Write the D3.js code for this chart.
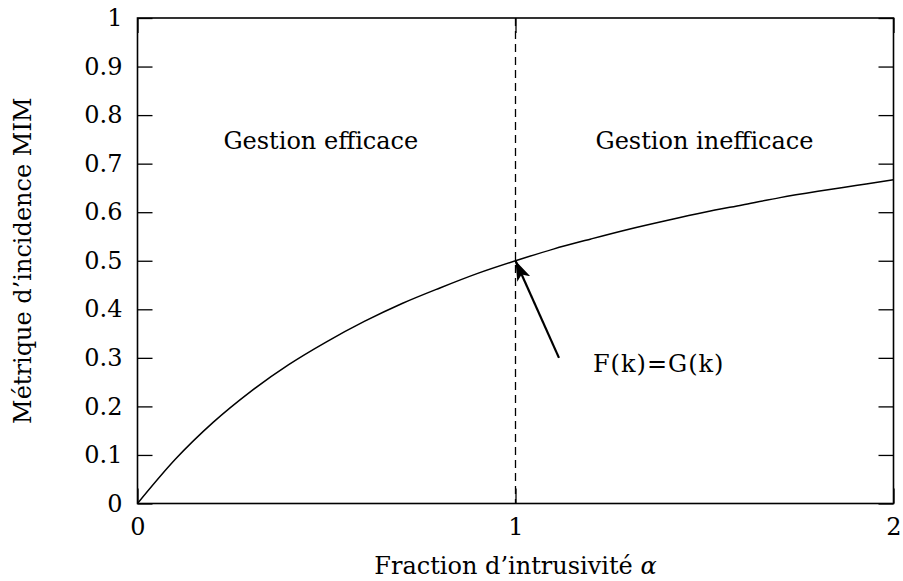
<!DOCTYPE html>
<html>
<head>
<meta charset="utf-8">
<script src="https://cdn.jsdelivr.net/npm/d3@7"></script>
<style>
  html, body { margin: 0; padding: 0; background: #fff; }
</style>
</head>
<body>
<svg id="chart" width="903" height="581"></svg>
<script>
// Fraction d'intrusivité (x) and MIM incidence metric (y) along the curve
const alphaValues = [0, 0.1, 0.2, 0.3, 0.4, 0.5, 0.6, 0.7, 0.8, 0.9, 1.0,
                     1.1, 1.2, 1.3, 1.4, 1.5, 1.6, 1.7, 1.8, 1.9, 2.0];
const mimValues   = [0, 0.091, 0.167, 0.231, 0.286, 0.333, 0.375, 0.412, 0.444, 0.474, 0.5,
                     0.524, 0.545, 0.565, 0.583, 0.6, 0.615, 0.630, 0.643, 0.655, 0.667];

const xTickValues = [0, 1, 2];
const yTickValues = [0, 0.1, 0.2, 0.3, 0.4, 0.5, 0.6, 0.7, 0.8, 0.9, 1];

// Threshold separating the two regimes, and the point where F(k)=G(k)
const thresholdAlpha = 1;
const crossing = { x: 1, y: 0.5 };
const arrowTail = { x: 1.115, y: 0.30 };

const regionLabels = [
  { text: "Gestion efficace", x: 0.485, y: 0.73 },
  { text: "Gestion inefficace", x: 1.5, y: 0.73 }
];

const svg = d3.select("#chart");
const margin = { left: 137.5, right: 9.5, top: 18, bottom: 77.5 };
const W = 903, H = 581;

const x = d3.scaleLinear().domain([0, 2]).range([margin.left, W - margin.right]);
const y = d3.scaleLinear().domain([0, 1]).range([H - margin.bottom, margin.top]);

const fontSize = 24;
const tickLen = 15;
const serif = '"DejaVu Serif", serif';

// arrowhead marker
svg.append("defs").append("marker")
  .attr("id", "arrowhead")
  .attr("viewBox", "0 0 20 14")
  .attr("refX", 20).attr("refY", 7)
  .attr("markerWidth", 20).attr("markerHeight", 14)
  .attr("markerUnits", "userSpaceOnUse")
  .attr("orient", "auto")
  .append("path")
  .attr("d", "M0,0 L20,7 L0,14 L5,7 Z")
  .attr("fill", "#000");

// axes with inward ticks on all four sides
const axisStyle = g => {
  g.attr("font-family", serif).attr("font-size", fontSize);
  g.select(".domain").remove();
  g.selectAll(".tick line").attr("stroke", "#000").attr("stroke-width", 1.3);
  g.selectAll(".tick text").attr("fill", "#000");
};

svg.append("g")
  .attr("transform", `translate(0,${y(0)})`)
  .call(d3.axisBottom(x).tickValues(xTickValues).tickFormat(d3.format("d"))
        .tickSizeInner(-tickLen).tickSizeOuter(0).tickPadding(14))
  .call(axisStyle);

svg.append("g")
  .attr("transform", `translate(0,${y(1)})`)
  .call(d3.axisTop(x).tickValues(xTickValues).tickFormat("")
        .tickSizeInner(-tickLen).tickSizeOuter(0))
  .call(axisStyle);

svg.append("g")
  .attr("transform", `translate(${x(0)},0)`)
  .call(d3.axisLeft(y).tickValues(yTickValues)
        .tickFormat(d => d === 0 || d === 1 ? d3.format("d")(d) : d3.format(".1f")(d))
        .tickSizeInner(-tickLen).tickSizeOuter(0).tickPadding(15))
  .call(axisStyle);

svg.append("g")
  .attr("transform", `translate(${x(2)},0)`)
  .call(d3.axisRight(y).tickValues(yTickValues).tickFormat("")
        .tickSizeInner(-tickLen).tickSizeOuter(0))
  .call(axisStyle);

// plot frame
svg.append("rect")
  .attr("x", x(0)).attr("y", y(1))
  .attr("width", x(2) - x(0)).attr("height", y(0) - y(1))
  .attr("fill", "none").attr("stroke", "#000").attr("stroke-width", 1.6);

// dashed threshold line
svg.append("line")
  .attr("x1", x(thresholdAlpha)).attr("x2", x(thresholdAlpha))
  .attr("y1", y(1)).attr("y2", y(0))
  .attr("stroke", "#000").attr("stroke-width", 1.3)
  .attr("stroke-dasharray", "8,5");

// MIM curve
const pts = alphaValues.map((a, i) => [a, mimValues[i]]);
svg.append("path")
  .datum(pts)
  .attr("fill", "none").attr("stroke", "#000").attr("stroke-width", 1.5)
  .attr("d", d3.line().x(d => x(d[0])).y(d => y(d[1])).curve(d3.curveMonotoneX));

// region labels
svg.selectAll(".region").data(regionLabels).enter().append("text")
  .attr("class", "region")
  .attr("x", d => x(d.x)).attr("y", d => y(d.y))
  .attr("text-anchor", "middle")
  .attr("font-family", serif)
  .attr("font-size", fontSize)
  .text(d => d.text);

// annotation arrow
svg.append("line")
  .attr("x1", x(arrowTail.x)).attr("y1", y(arrowTail.y))
  .attr("x2", x(crossing.x)).attr("y2", y(crossing.y))
  .attr("stroke", "#000").attr("stroke-width", 2.2)
  .attr("marker-end", "url(#arrowhead)");

svg.append("text")
  .attr("x", x(arrowTail.x) + 34).attr("y", y(arrowTail.y) + 14)
  .attr("font-family", serif)
  .attr("font-size", fontSize)
  .attr("letter-spacing", 1)
  .text("F(k)=G(k)");

// axis titles
const xt = svg.append("text")
  .attr("x", x(1)).attr("y", 574)
  .attr("text-anchor", "middle")
  .attr("font-family", serif)
  .attr("font-size", fontSize);
xt.append("tspan").text("Fraction d’intrusivité ");
xt.append("tspan").attr("font-style", "italic").text("α");

svg.append("text")
  .attr("transform", `translate(31,${y(0.5)}) rotate(-90)`)
  .attr("text-anchor", "middle")
  .attr("font-family", serif)
  .attr("font-size", fontSize)
  .text("Métrique d’incidence MIM");
</script>
</body>
</html>
